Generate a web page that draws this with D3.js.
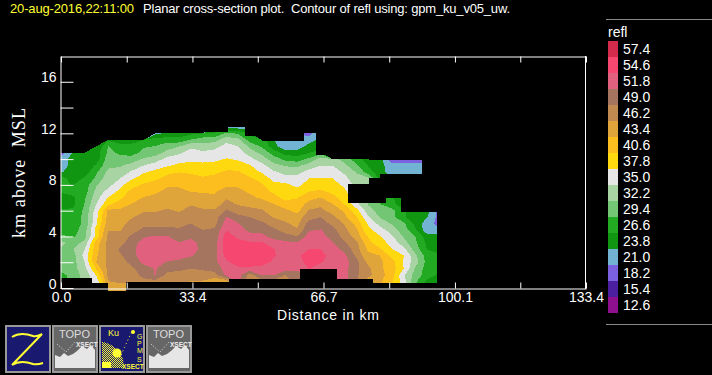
<!DOCTYPE html>
<html>
<head>
<meta charset="utf-8">
<script src="https://cdn.jsdelivr.net/npm/d3@7"></script>
<style>
  html, body { margin: 0; background: #000; }
  svg { display: block; }
  text { font-family: "Liberation Sans", sans-serif; font-size: 14px; fill: #fff; }
</style>
</head>
<body>
<div id="chart"></div>
<script>
const width = 712, height = 375;

// colour bar, lowest value first
const levels = [12.6, 15.4, 18.2, 21.0, 23.8, 26.6, 29.4, 32.2, 35.0, 37.8, 40.6, 43.4, 46.2, 49.0, 51.8, 54.6, 57.4];
const levelColors = ["#8f108f", "#4b1fa0", "#7b60e0", "#72b2d2", "#119611", "#22aa22", "#73c673", "#a8d4a4",
  "#e6e6e6", "#ffd90f", "#fcbe1e", "#e0a53a", "#c08a50", "#a5755f", "#e0607e", "#f5476f", "#d42a4b"];

const xTicks = [0, 16.7, 33.4, 50, 66.7, 83.4, 100.1, 116.7, 133.4];
const xLabels = ["0.0", "", "33.4", "", "66.7", "", "100.1", "", "133.4"];
const yTicks = [0, 2, 4, 6, 8, 10, 12, 14, 16];
const yLabels = ["0", "", "4", "", "8", "", "12", "", "16"];

// refl profiles, one per 3 km of distance, 0.5 km steps going up from the ground
const dKm = 3, dAlt = 0.5;
const refl = [
  [28,28,28,31,31,31,32,33,30,28,28,27,27,25,25,27,27,28,23.5,22,22,19.5],
  [31,31,31,31,31,31,32,31,29,28,28,28,27,26,26,28,26.5,25,25,25,25,24],
  [33,33,33,34,35,36,35,33,31,31,30,30,30,29.5,29,28,28,27,25,25,25,24],
  [36,36,38,41,43.5,43,42.5,42,39,39,37.5,37,36.5,35,34,33,32,30,29,27,25,25,24],
  [44,46,47,47,47,47,47,47,47,46,45,44.5,44,40,38,36,34,34,33,31.5,31,30,29.5,26],
  [44,47,47,47,47.5,48.5,49.5,48,47.5,46,45.5,45,44,42,40,38.5,37,35,33,32,30,29,27,26],
  [44,47,47.5,48.5,50,51,51,50.5,49.5,48,47,46,45,43.5,42.5,41.5,39.5,37.5,35.5,33,31,28,27,26],
  [46,48,50,50.5,52.5,53,53.5,53,51.5,49.5,48.5,47,46,45,43.5,42.5,41,39,37.5,35,32.5,30.5,29,26.5],
  [46,48,52,52,53,53.5,54,53.5,52,49.5,48.5,47,46,45,44,43,42,40,38.5,36.5,33.5,31,29.5,28,23],
  [46,47.5,48,50,51.5,53.5,53.5,53,52,49.5,48.5,47,46.5,45.5,44.5,44,43,41.5,40,37.5,36,33,31,28,24.5],
  [44,47.5,47.5,50,51,53,53,52,50,49.5,48,47,46,45.5,44.5,44,43,42,40.5,38.5,36.5,34.5,32,27.5,25],
  [44,46,47.5,49,50,52,53,53,51,50,49,48,47,46,45,43.3,43,42,40,39,37,36,34.5,29.5,26],
  [44,46,47.5,49.5,50,51,51,50.5,49.5,49,48,47.5,46.5,45.5,44.5,43,42,41,39.5,38.5,37,35.5,33.5,31,26.5],
  [44,44,48,50,51,51,50.5,50.5,50,49.5,48,47.5,46.5,45,44,43,42,41.5,40,39,37,36,34,31,27,23],
  [44,44,52.5,53,54,55.5,56.5,56,56,54.5,53,52,49.5,47,46,44.5,43,42,41,39.5,38,36.5,36,34,30,23],
  [53,53,53,54,56,56,56,55.5,54,53,52,50,47.5,46,45,44,43,42,41,39,37.5,36.5,35,33,29,22],
  [47,47,47.5,54,56,56.5,56,55,53,51,50,49,47,45.5,44,43,42,41,39,38,36,33.5,31.5,28,26,22],
  [47,47.5,52,53.5,56,56.5,56,55,52.5,51,49.5,48,46.5,45,43,42,41,39.5,37.5,36,33.5,31.5,29,28],
  [48,48,52,53,54,55,54.8,53,51,49.5,48,46,45,43.5,42,40,38.5,37,35.5,33,31,28,25,24],
  [47,47,49,53,53,53,53,52.5,50,48,46.5,45.5,44,42,39.5,39.5,38.5,36,34,32,28.5,25.5,21.5,22],
  [50,50,49,53,53,54,53,52,49,46.5,45.5,44.5,42.5,41.5,40.5,39,37,36,34,31.5,28,25,22,21.5,21],
  [53,53,53,54.7,56,56,54.6,54,53,51.5,50,48,46.5,44.5,42.5,40.5,39,37.8,36,33.5,30,26.5,25,22,20],
  [52,52,52,52,55,56,54.6,53.5,52.5,52,50,49,47,45.5,43.5,41,39.5,38,36.5,35,33.5,28,25,25,24],
  [53,53,53,53,53,53,53,52,51,50,48.5,47,45,43.5,41.5,40,39,37.8,36.5,35,33.5],
  [53,53,53,53,53,52.5,51,49.5,48,47,46,44,43,40.5,39.5,38.5,37.2,36,34.5,33,31],
  [49.5,49.5,49.5,49.5,50,48.5,47.5,47,45,44,42.5,41,39,36,35.5,35,34,33,32,30,28],
  [45,45,47,47,45.5,44,43,41.5,40.5,38.5,37.5,35.5,33.5,32,34,34,34,33,28,26.5,25],
  [44,44,44.5,44,44,43.5,41,39,38,36.5,34,32,31,29.5,28,28,26,26,25,25,25],
  [40,41,42,42,42,40,38,37,35.5,33.5,32,30.5,30.5,27.5,27,27,25,24,22.5,22,19],
  [36,36.5,35.5,38,37.5,38,36,33.5,32,31,30,27,27,25,25,25,25,24,22,22,19],
  [30,30,31,32,33.5,33,31,30,29.5,27,26,25,25,25,25,25,25,24,22,22,19.5],
  [25,26,28,28,28.5,28,26.5,26,25,22,22,24,25,25,25,25,25,22,22,21.5,19.5],
  [24.5,24.5,26,27.5,27,27,26,25,25,21.5,20.3,20,20]
];

// stretches with no echo: from km, to km, from alt, to alt
const noData = [
  [-2, 0, -0.5, 13], [95.5, 100, -0.5, 12],
  [0, 7.9, -0.5, 0.78], [7.9, 12, -0.5, 0.42], [16.4, 42.7, -0.5, 0.45], [42.7, 60.7, -0.5, 0.67],
  [60.7, 70.1, -0.5, 1.47], [70.1, 79.4, -0.5, 0.67], [79.4, 96, -0.5, 0.4],
  [72.8, 82.5, 6.6, 8.08], [82.5, 86.4, 7.0, 8.08], [86.4, 100, 5.9, 8.08],
  [78.2, 100, 8.08, 8.56], [81, 100, 8.56, 8.86], [91.7, 100, 8.8, 10.5],
  [78.2, 100, 9.94, 11], [64.7, 78.2, 10.33, 13],
  [30, 42.4, 12.1, 13], [46.8, 51, 11.8, 13], [51, 61.7, 11.4, 13], [61.7, 64.7, 12.15, 13], [42.4, 46.8, 12.5, 13]
];

const svg = d3.select("#chart").append("svg").attr("width", width).attr("height", height);

const x = d3.scaleLinear().domain([0, 133.4]).range([61, 586]);
const y = d3.scaleLinear().domain([0, 18]).range([288, 56]);

// contours of the grid, painted from the weakest band up
const nx = refl.length, ny = 26;
const grid = new Array(nx * ny);
for (let j = 0; j < ny; j++) {
  for (let i = 0; i < nx; i++) {
    const v = refl[i][j];
    grid[j * nx + i] = v == null ? -10000 : v;
  }
}
const contours = d3.contours().size([nx, ny]).thresholds(levels)(grid);
const path = d3.geoPath(d3.geoTransform({
  point(px, py) {
    this.stream.point(x((px - 0.5) * dKm), y((py - 0.5) * dAlt));
  }
}));

svg.append("g").selectAll("path")
  .data(contours.slice(0, levels.length))
  .join("path")
  .attr("d", path)
  .attr("fill", (d, i) => levelColors[i])
  .attr("shape-rendering", "crispEdges");

svg.append("g").selectAll("rect")
  .data(noData)
  .join("rect")
  .attr("x", d => x(d[0]))
  .attr("width", d => x(d[1]) - x(d[0]))
  .attr("y", d => y(d[3]))
  .attr("height", d => y(d[2]) - y(d[3]))
  .attr("fill", "#000")
  .attr("shape-rendering", "crispEdges");

// axes, ticks point into the plot
svg.append("g").attr("transform", "translate(0,288.5)")
  .call(d3.axisBottom(x).tickValues(xTicks).tickSize(-6).tickSizeOuter(0).tickPadding(4)
    .tickFormat((d, i) => xLabels[i]));
svg.append("g").attr("transform", "translate(0,56.5)")
  .call(d3.axisTop(x).tickValues(xTicks).tickSize(-6).tickSizeOuter(0).tickFormat(""));
const yAxisG = svg.append("g").attr("transform", "translate(60.5,0)")
  .call(d3.axisLeft(y).tickValues(yTicks).tickSize(-13).tickSizeOuter(0).tickPadding(4)
    .tickFormat((d, i) => yLabels[i]));
yAxisG.selectAll("text").attr("dy", "0");
svg.append("line").attr("x1", 585.5).attr("x2", 585.5).attr("y1", 56).attr("y2", 289).attr("stroke", "#fff");
svg.selectAll(".domain").attr("stroke", "#fff");
svg.selectAll(".tick line").attr("stroke", "#fff");
svg.selectAll(".tick text").attr("fill", "#fff").style("font-size", "14px")
  .style("font-family", '"Liberation Sans", sans-serif');

// titles
svg.append("text").attr("x", 10).attr("y", 13).attr("textLength", 124).style("font-size", "13px").style("fill", "#ffff33")
  .text("20-aug-2016,22:11:00");
svg.append("text").attr("x", 143).attr("y", 13).attr("textLength", 367).style("font-size", "13px").style("white-space", "pre")
  .text("Planar cross-section plot.  Contour of refl using: gpm_ku_v05_uw.");
svg.append("text").attr("x", 277).attr("y", 320).attr("textLength", 102).text("Distance in km");
svg.append("text").attr("transform", "translate(25,238) rotate(-90)").attr("textLength", 130)
  .style("white-space", "pre").style("font-family", '"Liberation Serif", serif').style("font-size", "18px")
  .text("km above  MSL");

// colour bar
const barTop = 41, cellH = 16;
const bar = svg.append("g");
const reversed = levels.map((v, i) => ({ v, c: levelColors[i] })).reverse();
bar.selectAll("rect").data(reversed).join("rect")
  .attr("x", 608).attr("y", (d, i) => barTop + i * cellH)
  .attr("width", 10).attr("height", cellH).attr("fill", d => d.c);
bar.selectAll("text").data(reversed).join("text")
  .attr("x", 623).attr("y", (d, i) => barTop + i * cellH + 13)
  .text(d => d.v.toFixed(1));
svg.append("text").attr("x", 608).attr("y", 37).text("refl");
svg.append("line").attr("x1", 606).attr("x2", 712).attr("y1", 19.5).attr("y2", 19.5).attr("stroke", "#888");
svg.append("line").attr("x1", 606).attr("x2", 712).attr("y1", 324.5).attr("y2", 324.5).attr("stroke", "#888");

// menu buttons under the plot
const defs = svg.append("defs");
const checker = defs.append("pattern").attr("id", "checker").attr("width", 2).attr("height", 2)
  .attr("patternUnits", "userSpaceOnUse");
checker.append("rect").attr("width", 1).attr("height", 1).attr("fill", "#ffff33");
checker.append("rect").attr("x", 1).attr("y", 1).attr("width", 1).attr("height", 1).attr("fill", "#ffff33");

function button(px, bg) {
  const g = svg.append("g").attr("transform", `translate(${px},325)`);
  g.append("rect").attr("x", 1).attr("y", 1).attr("width", 44).attr("height", 46)
    .attr("fill", bg).attr("stroke", "#999").attr("stroke-width", 2);
  return g;
}
function topoButton(px) {
  const g = button(px, "#666");
  g.append("text").attr("x", 7).attr("y", 13).style("fill", "#ddd").style("font-size", "11px").text("TOPO");
  g.append("text").attr("x", 24).attr("y", 22).style("fill", "#eee").style("font-size", "6.5px").style("font-weight", "bold").text("XSECT");
  g.append("path").attr("fill", "#e6e6e6")
    .attr("d", "M3,43V30L8,32L12,28L16,31L21,29L25,26L30,21L35,24L39,20L43,25V43Z");
  g.append("path").attr("fill", "none").attr("stroke", "#e6e6e6").attr("stroke-dasharray", "1 2")
    .attr("d", "M5,19L14,27L24,16");
}
const zBtn = button(5, "#191970");
zBtn.append("path").attr("fill", "none").attr("stroke", "#ffff33").attr("stroke-width", 2)
  .attr("d", "M7,12C13,8 20,8 28,11C32,12 35,10 37,9L7,40C13,36 20,36 28,39C32,40 35,39 38,38");
topoButton(52);
const ku = button(99, "#191970");
ku.append("text").attr("x", 9).attr("y", 11).style("fill", "#ffff33").style("font-size", "9px").text("Ku");
ku.append("path").attr("fill", "url(#checker)").attr("d", "M3,43V17C12,18 20,24 24,34L25,43Z");
ku.append("rect").attr("x", 3).attr("y", 37).attr("width", 9).attr("height", 6).attr("fill", "#ffff33");
ku.append("circle").attr("cx", 18).attr("cy", 28).attr("r", 4.5).attr("fill", "#ffff33");
ku.append("path").attr("fill", "none").attr("stroke", "#ffff33").attr("stroke-dasharray", "1 3").attr("d", "M22,30L33,6");
ku.append("circle").attr("cx", 34).attr("cy", 7).attr("r", 2).attr("fill", "#ffff33");
ku.append("g").selectAll("text").data(["G", "P", "M", "S"]).join("text")
  .attr("x", 38).attr("y", (d, i) => i < 3 ? 14 + i * 7 : 37).style("fill", "#ffff33").style("font-size", "7px").text(d => d);
ku.append("text").attr("x", 23).attr("y", 44).style("fill", "#ffff33").style("font-size", "6.5px").style("font-weight", "bold").text("XSECT");
topoButton(146);
</script>
</body>
</html>
